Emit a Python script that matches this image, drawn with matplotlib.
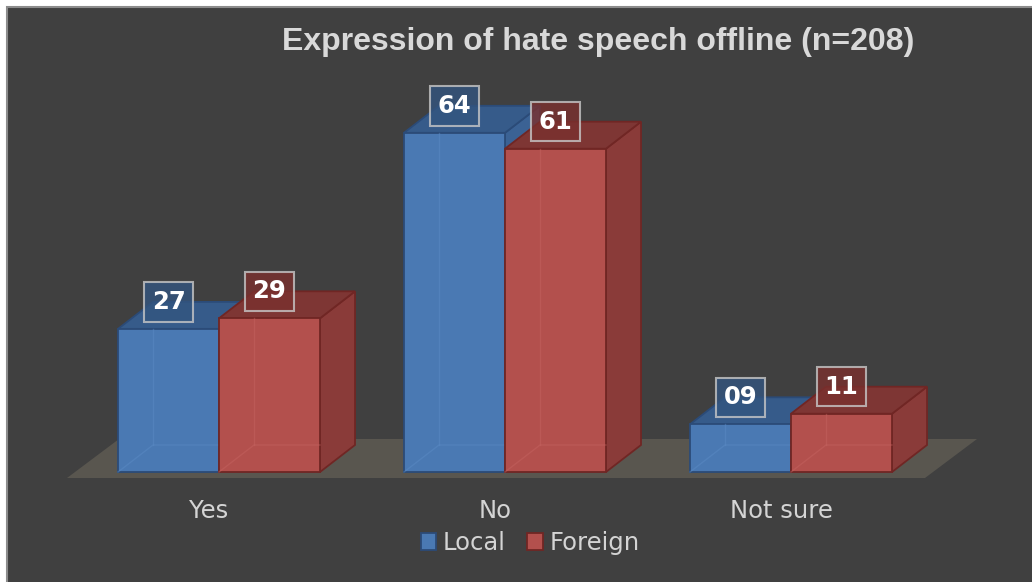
import matplotlib
matplotlib.use("Agg")
import matplotlib.pyplot as plt
from matplotlib.patches import Polygon, Rectangle, Patch

# ---- data ----
categories = ["Yes", "No", "Not sure"]
local_vals = [27, 64, 9]
foreign_vals = [29, 61, 11]
local_labels = ["27", "64", "09"]
foreign_labels = ["29", "61", "11"]
series_names = ["Local", "Foreign"]
title = "Expression of hate speech offline (n=208)"

# ---- style ----
W, H = 1032, 582
BG = "#404040"
TXT = "#d4d4d4"
blue = dict(front="#4a79b3", side="#3b6294", top="#365b8a", edge="#2b4b78", inner="#5c8cc6", lab="#33557f")
red = dict(front="#b3504d", side="#8a3b39", top="#7e3634", edge="#702624", inner="#c66461", lab="#7a302e")

# pixel mapping -> data limits
px_per_x = 286.0
x_origin_px = 219.0
px_per_v = 5.3
base_px = 472.0
X0 = -x_origin_px / px_per_x
X1 = (W - x_origin_px) / px_per_x
Y0 = (base_px - H) / px_per_v
Y1 = base_px / px_per_v

bw = 101 / px_per_x          # bar width
ddx = 35 / px_per_x          # depth offsets
ddv = 27 / px_per_v

fig = plt.figure(figsize=(W / 100, H / 100), dpi=100, facecolor="white")
fig.patches.append(Rectangle((6.5 / W, -0.01), 1.02, 1 - 6.5 / H + 0.01, transform=fig.transFigure,
                             facecolor=BG, edgecolor="#8c8c8c", lw=1.5, zorder=-10))
ax = fig.add_axes([0, 0, 1, 1])
ax.set_xlim(X0, X1)
ax.set_ylim(Y0, Y1)
ax.axis("off")
ax.patch.set_alpha(0)

# floor
fx0 = (67 - x_origin_px) / px_per_x
fx1 = (925 - x_origin_px) / px_per_x
fv = (base_px - 478) / px_per_v
fdx = 52 / px_per_x
fdv = 39 / px_per_v
ax.add_patch(Polygon([(fx0, fv), (fx1, fv), (fx1 + fdx, fv + fdv), (fx0 + fdx, fv + fdv)],
                     closed=True, facecolor="#59564f", edgecolor="none", zorder=1))

z = 2


def draw_bar(x0, h, c, z):
    x1 = x0 + bw
    # side
    ax.add_patch(Polygon([(x1, 0), (x1 + ddx, ddv), (x1 + ddx, h + ddv), (x1, h)], closed=True,
                         facecolor=c["side"], edgecolor=c["edge"], lw=1.3, zorder=z))
    # top
    ax.add_patch(Polygon([(x0, h), (x0 + ddx, h + ddv), (x1 + ddx, h + ddv), (x1, h)], closed=True,
                         facecolor=c["top"], edgecolor=c["edge"], lw=1.3, zorder=z))
    # front
    ax.bar(x0, h, width=bw, bottom=0, align="edge", color=c["front"], edgecolor=c["edge"],
           lw=1.3, zorder=z + 0.1)
    # faint inner (back) edges for transparent look
    ax.plot([x0, x0 + ddx, x1], [0, ddv, ddv], color=c["inner"], lw=1.0, alpha=0.45, zorder=z + 0.2)
    ax.plot([x0 + ddx, x0 + ddx], [ddv, min(h, h + ddv)], color=c["inner"], lw=1.0, alpha=0.45,
            zorder=z + 0.2)


for i, cat in enumerate(categories):
    draw_bar(i - bw, local_vals[i], blue, z)
    z += 1
    draw_bar(i, foreign_vals[i], red, z)
    z += 1

# data labels
for i in range(len(categories)):
    for x0, v, lab, c in [(i - bw, local_vals[i], local_labels[i], blue),
                          (i, foreign_vals[i], foreign_labels[i], red)]:
        ax.text(x0 + bw / 2, v + ddv, lab, ha="center", va="center", fontsize=17.5,
                fontweight="bold", color="white", family="DejaVu Sans", zorder=50,
                bbox=dict(boxstyle="square,pad=0.32", facecolor=c["lab"], alpha=0.8,
                          edgecolor="#c8c8c8", lw=1.5))

# category labels
for i, cat in enumerate(categories):
    ax.text(i - 10 / px_per_x, (base_px - 511) / px_per_v, cat, ha="center", va="center",
            fontsize=17.5, color=TXT, family="DejaVu Sans")

# title
fig.text(598 / W, 1 - 42 / H, title, ha="center", va="center", fontsize=23,
         fontweight="bold", color="#d9d9d9", family="Liberation Sans")

# legend
handles = [Patch(facecolor=blue["front"], edgecolor=blue["edge"], lw=1.3),
           Patch(facecolor=red["front"], edgecolor=red["edge"], lw=1.3)]
leg = fig.legend(handles, series_names, loc="center", bbox_to_anchor=(530 / W, 1 - 543 / H),
                 ncol=2, frameon=False, handlelength=0.65, handleheight=0.65,
                 handletextpad=0.25, columnspacing=0.9,
                 prop=dict(family="DejaVu Sans", size=17.5))
for t in leg.get_texts():
    t.set_color(TXT)

fig.savefig("out.png", dpi=100, facecolor="white")
